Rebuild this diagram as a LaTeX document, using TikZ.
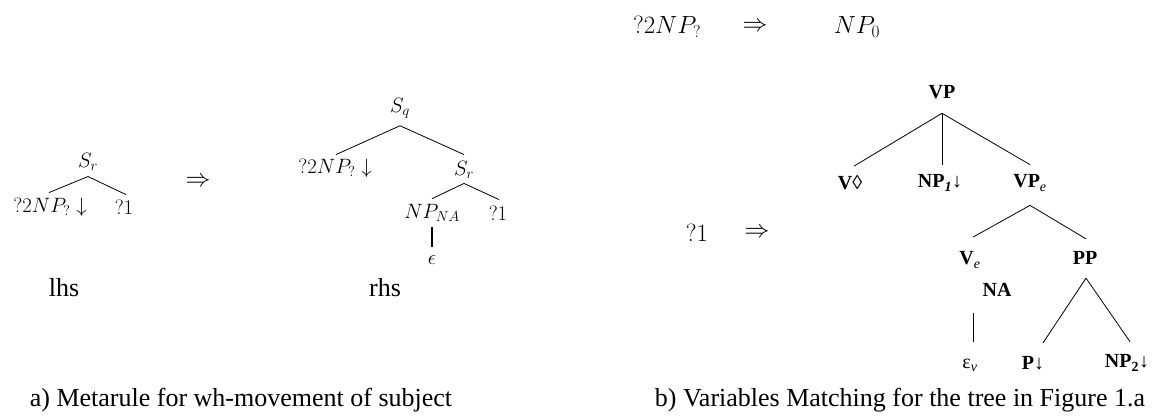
\documentclass[tikz,border=0pt]{standalone}
\usepackage{fontspec}
\newfontfamily\tms{Liberation Serif}
\begin{document}
\begin{tikzpicture}[x=1pt,y=-1pt,
  sm/.style={inner sep=0pt, font=\fontsize{20}{24}\selectfont},
  bm/.style={inner sep=0pt, font=\fontsize{24}{28}\selectfont},
  tb/.style={inner sep=0pt, font=\fontsize{20}{24}\selectfont\tms\bfseries},
  tr/.style={inner sep=0pt, font=\fontsize{20}{24}\selectfont\tms},
  captxt/.style={inner sep=0pt, font=\fontsize{26}{30}\selectfont\tms},
  br/.style={line width=0.8pt},
  thk/.style={line width=2.4pt}]
\useasboundingbox (0,0) rectangle (1160,419);
% ---------- left: lhs
\node[sm] (Sr1) at (88,162) {$S_r$};
\node[sm] (a1) at (50,207) {$?2NP_?\downarrow$};
\node[sm] (b1) at (124,207) {$?1$};
\node[bm] (arr1) at (198,182) {$\Rightarrow$};
\node[captxt] (lhs) at (64,288) {lhs};
\draw[br] ([yshift=-5.7pt]Sr1.south) -- ([xshift=-1pt,yshift=5pt]a1.north);
\draw[br] ([yshift=-5.7pt]Sr1.south) -- ([xshift=2pt,yshift=5pt]b1.north);
% ---------- middle: rhs
\node[sm] (Sq) at (400,108) {$S_q$};
\node[sm] (a2) at (335,168) {$?2NP_?\downarrow$};
\node[sm] (Sr2) at (464,170) {$S_r$};
\node[sm] (np) at (432,213) {$NP_{NA}$};
\node[sm] (b2) at (498,213) {$?1$};
\node[sm] (eps) at (432,260) {$\epsilon$};
\node[captxt] (rhs) at (385,288) {rhs};
\draw[br] ([yshift=-7.5pt]Sq.south) -- ([xshift=1pt,yshift=4pt]a2.north);
\draw[br] ([yshift=-7.5pt]Sq.south) -- ([yshift=6.6pt]Sr2.north);
\draw[br] ([yshift=-4.6pt]Sr2.south) -- ([yshift=5.5pt]np.north);
\draw[br] ([yshift=-4.6pt]Sr2.south) -- ([xshift=1pt,yshift=6pt]b2.north);
\draw[thk] ([yshift=-5.5pt]np.south) -- ([yshift=8.7pt]eps.north);
% ---------- right: matching
\node[bm] (t1) at (667,27) {$?2NP_?$};
\node[bm] (t2) at (755,27) {$\Rightarrow$};
\node[bm] (t3) at (857,27) {$NP_0$};
\node[bm] (q1) at (697,233) {$?1$};
\node[bm] (t4) at (757,233) {$\Rightarrow$};
\node[tb] (VP) at (942,92) {VP};
\node[tb] (V) at (850,183) {V{\mdseries ◊}};
\node[tb] (NP1) at (940,183) {NP\textsubscript{\itshape 1}↓};
\node[tb] (VPe) at (1030,183) {VP\textsubscript{\mdseries\itshape e}};
\node[tb] (Ve) at (970,260) {V\textsubscript{\mdseries\itshape e}};
\node[tb] (PP) at (1085,258) {PP};
\node[tb] (NA) at (997,290) {NA};
\node[tr] (epsv) at (970,365) {ε\textsubscript{\itshape v}};
\node[tb] (P) at (1033,363) {P↓};
\node[tb] (NP2) at (1127,363) {NP\textsubscript{2}↓};
\draw[br] ([yshift=-14.4pt]VP.south) -- ([xshift=4pt,yshift=9.5pt]V.north);
\draw[br] ([yshift=-14.4pt]VP.south) -- ([xshift=2pt,yshift=10pt]NP1.north);
\draw[br] ([yshift=-14.4pt]VP.south) -- ([yshift=10pt]VPe.north);
\draw[br] ([yshift=-14pt]VPe.south) -- ([xshift=3pt,yshift=14.5pt]Ve.north);
\draw[br] ([yshift=-14pt]VPe.south) -- ([xshift=1pt,yshift=12.4pt]PP.north);
\draw[br] ([xshift=3pt,yshift=-45pt]Ve.south) -- ([xshift=3pt,yshift=16pt]epsv.north);
\draw[br] ([xshift=1pt,yshift=-13.4pt]PP.south) -- ([xshift=10pt,yshift=13pt]P.north);
\draw[br] ([xshift=1pt,yshift=-13.4pt]PP.south) -- ([xshift=3pt,yshift=13pt]NP2.north);
% ---------- captions
\node[captxt] (capa) at (241,400) {a) Metarule for wh-movement of subject};
\node[captxt] (capb) at (900,400) {b) Variables Matching for the tree in Figure 1.a};
\end{tikzpicture}
\end{document}
